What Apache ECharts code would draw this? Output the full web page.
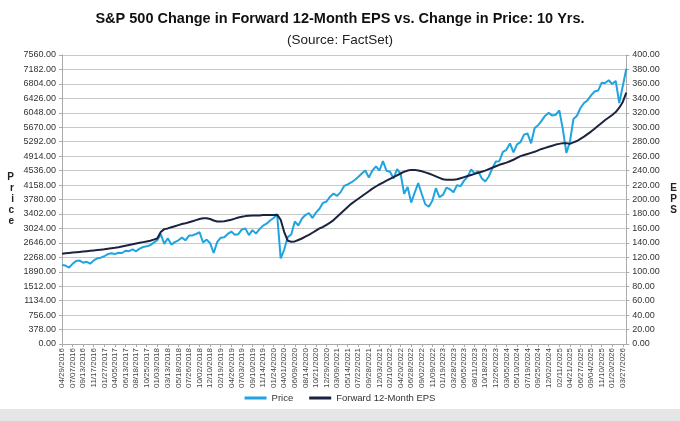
<!DOCTYPE html>
<html>
<head>
<meta charset="utf-8">
<script src="https://cdn.jsdelivr.net/npm/echarts@6/dist/echarts.min.js"></script>
<style>
html,body{margin:0;padding:0;background:#fff;}
#chart{width:680px;height:421px;}
</style>
</head>
<body>
<div id="chart"></div>
<script>
var tickLabels = ['04/29/2016','07/07/2016','09/13/2016','11/17/2016','01/27/2017','04/05/2017','06/13/2017','08/18/2017','10/25/2017','01/03/2018','03/13/2018','05/18/2018','07/26/2018','10/02/2018','12/10/2018','02/19/2019','04/26/2019','07/03/2019','09/10/2019','11/14/2019','01/24/2020','04/01/2020','06/09/2020','08/14/2020','10/21/2020','12/29/2020','03/09/2021','05/14/2021','07/22/2021','09/28/2021','12/03/2021','02/10/2022','04/20/2022','06/28/2022','09/02/2022','11/09/2022','01/19/2023','03/28/2023','06/05/2023','08/11/2023','10/18/2023','12/26/2023','03/05/2024','05/10/2024','07/19/2024','09/25/2024','12/02/2024','02/11/2025','04/21/2025','06/27/2025','09/04/2025','11/10/2025','01/20/2026','03/27/2026'];

var price = [
2065,2052,2000,2097,2173,2182,2127,2150,2100,2187,
2241,2258,2295,2351,2373,2352,2387,2381,2440,2429,
2475,2425,2496,2537,2557,2585,2651,2713,2873,2620,
2765,2600,2666,2712,2782,2713,2837,2840,2877,2923,
2656,2730,2637,2380,2664,2780,2792,2880,2940,2860,
2873,2996,3019,2848,2979,2887,3004,3097,3146,3231,
3295,3386,2240,2470,2797,2864,3207,3100,3276,3373,
3427,3298,3435,3537,3692,3727,3853,3934,3875,3973,
4135,4173,4226,4291,4367,4460,4537,4353,4537,4646,
4538,4786,4533,4504,4329,4575,4459,3930,4108,3700,
3960,4207,3924,3655,3590,3748,4076,3845,3899,4090,
4048,3971,4155,4130,4273,4378,4565,4464,4515,4337,
4250,4382,4595,4775,4780,5027,5079,5248,5011,5223,
5283,5478,5505,5250,5648,5722,5842,5973,6047,5975,
5997,6110,5620,5000,5280,5886,5970,6173,6305,6374,
6502,6604,6630,6832,6829,6900,6800,6880,6300,6750,
7200];

var eps = [
125,125.5,126,126.5,127,127.5,128,128.5,129,129.5,
130,130.5,131,131.8,132.5,133.2,134,135,136,137,
138,139,140,141,142,143,144.5,146,155,159,
160,161.5,163,164.5,166,167,168.5,170,171.5,173,
174,174,173,171,169.5,169.5,170,171,172,173.5,
175,176,177,177.5,178,178,178,178.5,178.5,178.5,
178.5,179,172,155,143,141.5,142,144,146,148.5,
151,154,157,160,162,165,168,171.5,176,180.5,
185,189.5,194,197.5,201,204.5,208,211.5,215,218,
221,223.5,226,228.5,231,233.5,236,238.5,240,241,
241,240,239,237.5,236,234,232,230,228,227.5,
227.5,227.5,228,229.5,231,232.5,234,235.5,237,238.5,
240,242,244,246,248,249.5,251,253,255,257.5,
260,261.5,263,264.5,266,268,270,271.5,273,274.5,
276,277,278,278,277,279,281,284,287,290.5,
294,298,302,306,310,313.5,317,321,327,335,
348];

var categories = [];
for (var i = 0; i < price.length; i++) {
  categories.push(i % 3 === 0 && tickLabels[i / 3] ? tickLabels[i / 3] : '');
}

var chart = echarts.init(document.getElementById('chart'));
var font = 'Liberation Sans, Arial, sans-serif';
chart.setOption({
  animation: false,
  backgroundColor: '#ffffff',
  textStyle: { fontFamily: font },
  title: [
    { text: 'S&P 500 Change in Forward 12-Month EPS vs. Change in Price: 10 Yrs.', left: 'center', top: 6,
      textStyle: { fontSize: 14.5, fontWeight: 'bold', color: '#111', fontFamily: font } },
    { text: '(Source: FactSet)', left: 'center', top: 28,
      textStyle: { fontSize: 13.5, fontWeight: 'normal', color: '#222', fontFamily: font } }
  ],
  legend: {
    bottom: 13, left: 'center', icon: 'rect', itemWidth: 22, itemHeight: 3, itemGap: 16,
    textStyle: { fontSize: 9.5, color: '#333', fontFamily: font },
    data: ['Price', 'Forward 12-Month EPS']
  },
  grid: { left: 62, right: 50, top: 55, bottom: 77, containLabel: false },
  xAxis: {
    type: 'category', data: categories, boundaryGap: false,
    axisLine: { lineStyle: { color: '#aaaaaa' } },
    axisTick: { show: true, interval: 2, length: 3, lineStyle: { color: '#aaaaaa' } },
    axisLabel: { interval: 2, rotate: 90, fontSize: 8, color: '#444', margin: 4, fontFamily: font }
  },
  yAxis: [
    { type: 'value', min: 0, max: 7560, interval: 378, position: 'left',
      name: 'P\nr\ni\nc\ne', nameLocation: 'middle', nameRotate: 0, nameGap: 48,
      nameTextStyle: { fontSize: 10, fontWeight: 'bold', color: '#222', lineHeight: 11, fontFamily: font },
      axisLine: { show: true, lineStyle: { color: '#aaaaaa' } },
      axisTick: { show: true, length: 3, lineStyle: { color: '#aaaaaa' } },
      axisLabel: { fontSize: 9, color: '#333', margin: 6, formatter: function (v) { return v.toFixed(2); }, fontFamily: font },
      splitLine: { show: true, lineStyle: { color: '#c8c8c8', width: 1 } }
    },
    { type: 'value', min: 0, max: 400, interval: 20, position: 'right',
      name: 'E\nP\nS', nameLocation: 'middle', nameRotate: 0, nameGap: 44,
      nameTextStyle: { fontSize: 10, fontWeight: 'bold', color: '#222', lineHeight: 11, fontFamily: font },
      axisLine: { show: true, lineStyle: { color: '#aaaaaa' } },
      axisTick: { show: true, length: 3, lineStyle: { color: '#aaaaaa' } },
      axisLabel: { fontSize: 9, color: '#333', margin: 6, formatter: function (v) { return v.toFixed(2); }, fontFamily: font },
      splitLine: { show: false }
    }
  ],
  series: [
    { name: 'Price', type: 'line', yAxisIndex: 0, data: price, symbol: 'none', showSymbol: false,
      lineStyle: { color: '#1fa4e0', width: 2 }, itemStyle: { color: '#1fa4e0' }, z: 2 },
    { name: 'Forward 12-Month EPS', type: 'line', yAxisIndex: 1, data: eps, symbol: 'none', showSymbol: false,
      lineStyle: { color: '#1c2340', width: 2 }, itemStyle: { color: '#1c2340' }, z: 3 }
  ],
  graphic: [
    { type: 'rect', left: 0, top: 409, shape: { width: 680, height: 12 }, style: { fill: '#e6e6e6' }, silent: true }
  ]
});
</script>
</body>
</html>
